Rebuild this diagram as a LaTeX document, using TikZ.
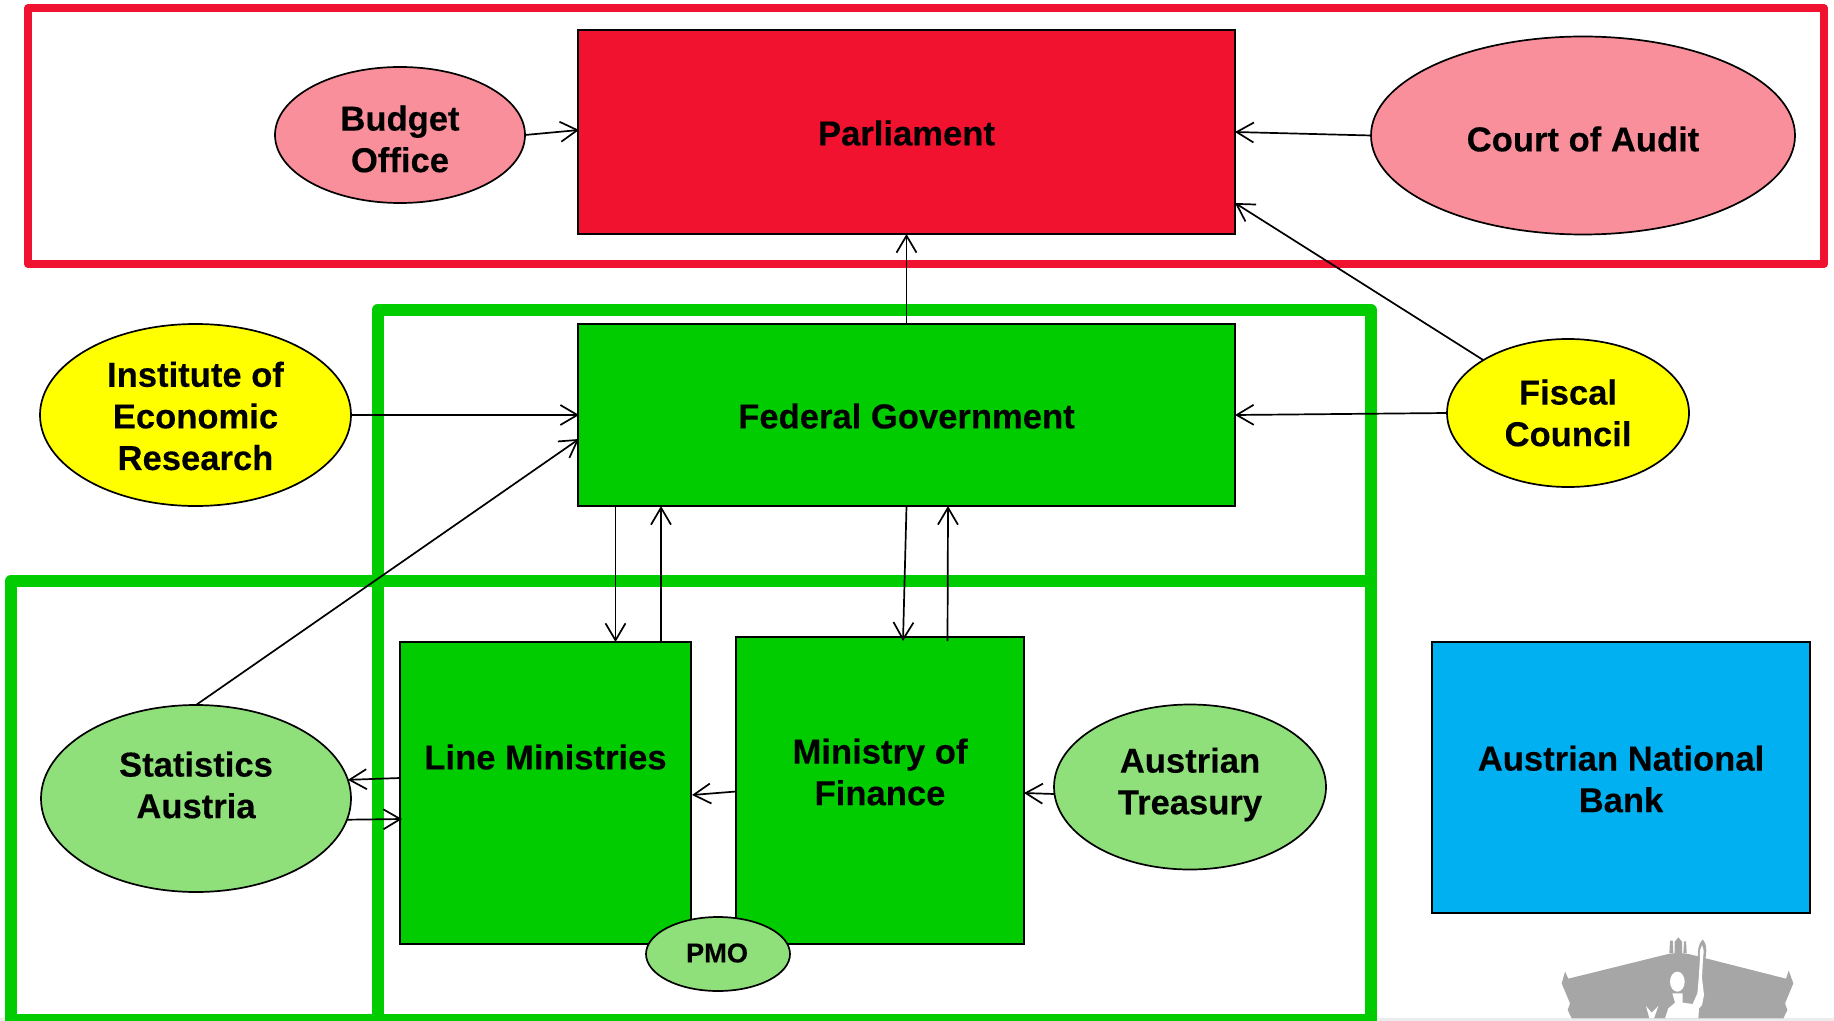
\documentclass[tikz,border=0pt]{standalone}
\usepackage{fontspec}
\setmainfont[BoldFeatures={FakeBold=0.2}]{Liberation Sans}
\usetikzlibrary{arrows.meta,shapes.geometric}
\definecolor{cred}{HTML}{F0122E}
\definecolor{cpink}{HTML}{F98F9B}
\definecolor{cgreen}{HTML}{00CC00}
\definecolor{clight}{HTML}{8FE07A}
\definecolor{cyell}{HTML}{FFFF00}
\definecolor{cblue}{HTML}{00B0F0}
\definecolor{clogo}{HTML}{A6A6A6}
\tikzset{
  redframe/.style={draw=cred,line width=4pt,line join=round},
  greenframe/.style={draw=cgreen,line width=6pt,line join=round},
  boxnode/.style={draw=black,line width=.85pt,rectangle,inner sep=0pt,outer sep=0pt},
  oval/.style={draw=black,line width=.85pt,ellipse,inner sep=0pt,outer sep=0pt},
  txt/.style={font=\fontsize{17.3pt}{20.8pt}\selectfont\bfseries,align=center,inner sep=0pt,text=black},
  link/.style={draw=black,line width=.85pt,-{Straight Barb[length=8.5pt,width=10pt,line width=.85pt]}},
}
\begin{document}
\begin{tikzpicture}[x=.5pt,y=-.5pt]
\useasboundingbox (0,0) rectangle (1834,1021);
\fill[gray!15] (0,1018) rectangle (1834,1021);
% logo
\begin{scope}[shift={(1500,880)},x=.16667pt,y=-.16667pt]
\fill[clogo] (185,310) -- (195,275) -- (205,296) -- (500,223) -- (535,218) -- (570,223) -- (858,296) -- (866,272) -- (880,310) -- (855,370) -- (862,390) -- (850,415) -- (215,415) -- (203,390) -- (210,370) -- cycle;
% statues on the roof
\fill[clogo] (508,220) -- (510,182) -- (518,182) -- (520,220) -- cycle;
\fill[clogo] (524,222) -- (524,185) -- (535,172) -- (546,185) -- (546,222) -- cycle;
\fill[clogo] (550,220) -- (552,184) -- (558,184) -- (560,220) -- cycle;
% spear outline
\fill[clogo] (608,178) .. controls (620,190) and (622,215) .. (614,245) -- (596,245) .. controls (590,215) and (596,190) .. (608,178) -- cycle;
% figure
\fill[white] (606,195) .. controls (612,205) and (612,215) .. (609,232) -- (606,295) -- (612,345) -- (606,375) -- (597,385) -- (595,415) -- (495,415) -- (505,385) -- (525,368) -- (517,340) -- (548,340) -- (548,368) -- (578,372) -- (592,340) -- (596,295) -- (600,232) .. controls (598,215) and (600,205) .. (606,195) -- cycle;
\fill[white] (532,305) ellipse [x radius=22,y radius=30];
\fill[white] (438,378) -- (455,398) -- (475,378) -- (462,415) -- (448,415) -- cycle;
\end{scope}
% frames
\draw[redframe] (28,8.5) rectangle (1824,264);
\draw[greenframe] (377.5,310) rectangle (1371,1020);
\draw[greenframe] (11,581) rectangle (1371,1020);
% shapes
\node[boxnode,fill=cred,minimum width=328.5pt,minimum height=102pt] (parl) at (906.5,132) {};
\node[boxnode,fill=cgreen,minimum width=328.5pt,minimum height=91pt] (fed) at (906.5,415) {};
\node[boxnode,fill=cgreen,minimum width=145.5pt,minimum height=151pt] (line) at (545.5,793) {};
\node[boxnode,fill=cgreen,minimum width=144pt,minimum height=153.5pt] (mof) at (880,790.5) {};
\node[boxnode,fill=cblue,minimum width=189pt,minimum height=135.5pt] (bank) at (1621,777.5) {};
\node[oval,fill=cpink,minimum width=125pt,minimum height=68pt] (budget) at (400,135) {};
\node[oval,fill=cpink,minimum width=212pt,minimum height=99pt] (court) at (1583,135.5) {};
\node[oval,fill=cyell,minimum width=155.5pt,minimum height=91pt] (inst) at (195.5,415) {};
\node[oval,fill=cyell,minimum width=121pt,minimum height=74pt] (fiscal) at (1568,413) {};
\node[oval,fill=clight,minimum width=155pt,minimum height=93.5pt] (stat) at (196,798.5) {};
\node[oval,fill=clight,minimum width=136pt,minimum height=82.5pt] (treas) at (1190,787) {};
\node[oval,fill=clight,minimum width=72pt,minimum height=37pt] (pmo) at (718,954) {};
% labels
\node[txt] (tbudget) at (400,139) {Budget\\Office};
\node[txt] (tparl) at (906.5,133) {Parliament};
\node[txt] (tcourt) at (1583,139) {Court of Audit};
\node[txt] (tinst) at (195.5,416) {Institute of\\Economic\\Research};
\node[txt] (tfed) at (906.5,416) {Federal Government};
\node[txt] (tfiscal) at (1568,413) {Fiscal\\Council};
\node[txt] (tstat) at (196,785) {Statistics\\Austria};
\node[txt] (tline) at (545.5,757) {Line Ministries};
\node[txt] (tmof) at (880,772) {Ministry of\\Finance};
\node[txt] (ttreas) at (1190,784.5) {Austrian\\Treasury};
\node[txt] (tbank) at (1621,779) {Austrian National\\Bank};
\node[txt,font=\fontsize{13.6pt}{16pt}\selectfont\bfseries] (tpmo) at (717,953) {PMO};
% connectors
\draw[link] (budget.east) -- ([xshift=.5pt,yshift=1pt]parl.west);
\draw[link] (court.west) -- (parl.east);
\draw[link] (fiscal.148.4) -- ([yshift=15.5pt]parl.south east);
\draw[link] (fiscal.west) -- (fed.east);
\draw[link] (inst.east) -- ([xshift=.5pt]fed.west);
\draw[link] (stat.north) -- ([xshift=.5pt,yshift=-12pt]fed.west);
\draw[link] (fed.north) -- (parl.south);
\draw[link] ([xshift=18.75pt]fed.south west) -- ([xshift=107.75pt]line.north west);
\draw[link] ([xshift=130.5pt]line.north west) -- ([xshift=41.5pt]fed.south west);
\draw[link] (fed.south) -- ([xshift=83.5pt,yshift=-2pt]mof.north west);
\draw[link] ([xshift=105.75pt,yshift=-2pt]mof.north west) -- ([xshift=20.75pt]fed.south);
\draw[link] ([yshift=-.5pt]mof.west) -- ([yshift=-1pt,xshift=.5pt]line.east);
\draw[link] ([yshift=-3.5pt]treas.west) -- ([yshift=-1.25pt]mof.east);
\draw[link] ([yshift=7.5pt]line.west) -- (stat.7.6);
\draw[link] (stat.-8) -- ([xshift=1pt,yshift=-13pt]line.west);
\end{tikzpicture}
\end{document}
